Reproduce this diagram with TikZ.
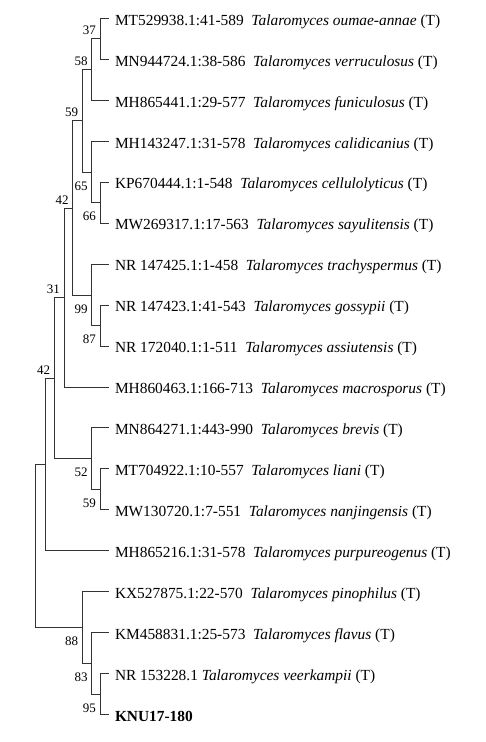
\documentclass[tikz,border=0pt]{standalone}
\usepackage{fontspec}
\setmainfont{Liberation Serif}
\usepackage{tikz}

\tikzset{
  branch/.style={draw=black!80, line width=0.8pt},
  taxon/.style={anchor=west, inner xsep=5.5pt, inner ysep=0pt, text height=13.6pt, text depth=0pt,
                font=\fontsize{15.4}{18}\selectfont},
  bootup/.style={anchor=south east, inner xsep=4pt, inner ysep=3.5pt, font=\fontsize{13}{15}\selectfont},
  bootdown/.style={anchor=north east, inner xsep=4pt, inner ysep=0pt, yshift=-9.5pt,
                   font=\fontsize{13}{15}\selectfont}
}

\begin{document}
\begin{tikzpicture}[x=1pt, y=-1pt]
\useasboundingbox (0,0) rectangle (485,742);

% Taxa
\node[taxon] (t1) at (109.3,18.3) {MT529938.1:41-589\ \ \textit{Talaromyces oumae-annae} (T)};
\node[taxon] (t2) at (109.3,59.3) {MN944724.1:38-586\ \ \textit{Talaromyces verruculosus} (T)};
\node[taxon] (t3) at (109.3,100.2) {MH865441.1:29-577\ \ \textit{Talaromyces funiculosus} (T)};
\node[taxon] (t4) at (109.3,141.2) {MH143247.1:31-578\ \ \textit{Talaromyces calidicanius} (T)};
\node[taxon] (t5) at (109.3,182.1) {KP670444.1:1-548\ \ \textit{Talaromyces cellulolyticus} (T)};
\node[taxon] (t6) at (109.3,223.1) {MW269317.1:17-563\ \ \textit{Talaromyces sayulitensis} (T)};
\node[taxon] (t7) at (109.3,264.0) {NR 147425.1:1-458\ \ \textit{Talaromyces trachyspermus} (T)};
\node[taxon] (t8) at (109.3,305.0) {NR 147423.1:41-543\ \ \textit{Talaromyces gossypii} (T)};
\node[taxon] (t9) at (109.3,345.9) {NR 172040.1:1-511\ \ \textit{Talaromyces assiutensis} (T)};
\node[taxon] (t10) at (109.3,386.9) {MH860463.1:166-713\ \ \textit{Talaromyces macrosporus} (T)};
\node[taxon] (t11) at (109.3,427.8) {MN864271.1:443-990\ \ \textit{Talaromyces brevis} (T)};
\node[taxon] (t12) at (109.3,468.8) {MT704922.1:10-557\ \ \textit{Talaromyces liani} (T)};
\node[taxon] (t13) at (109.3,509.7) {MW130720.1:7-551\ \ \textit{Talaromyces nanjingensis} (T)};
\node[taxon] (t14) at (109.3,550.7) {MH865216.1:31-578\ \ \textit{Talaromyces purpureogenus} (T)};
\node[taxon] (t15) at (109.3,591.6) {KX527875.1:22-570\ \ \textit{Talaromyces pinophilus} (T)};
\node[taxon] (t16) at (109.3,632.6) {KM458831.1:25-573\ \ \textit{Talaromyces flavus} (T)};
\node[taxon] (t17) at (109.3,673.5) {NR 153228.1\ \textit{Talaromyces veerkampii} (T)};
\node[taxon] (t18) at (109.3,714.5) {\textbf{KNU17-180}};

% Internal nodes
\coordinate (n37) at (100,38.8);
\coordinate (n58) at (91.7,69.5);
\coordinate (n66) at (100,202.6);
\coordinate (n65) at (91.7,171.9);
\coordinate (n59) at (82.3,120.7);
\coordinate (n87) at (100,325.5);
\coordinate (n99) at (91.7,295.2);
\coordinate (n42a) at (72.7,208);
\coordinate (n31) at (64,297.5);
\coordinate (n59b) at (100,489.3);
\coordinate (n52) at (91.7,458.5);
\coordinate (n42b) at (54.3,378);
\coordinate (n14) at (45,464.3);
\coordinate (n95) at (100,694);
\coordinate (n83) at (91.7,663.3);
\coordinate (n88) at (82.3,627.4);
\coordinate (root) at (35.7,545.9);

% Branches
\draw[branch] (n37) |- (t1.west);
\draw[branch] (n37) |- (t2.west);
\draw[branch] (n58) |- (n37);
\draw[branch] (n58) |- (t3.west);
\draw[branch] (n66) |- (t5.west);
\draw[branch] (n66) |- (t6.west);
\draw[branch] (n65) |- (t4.west);
\draw[branch] (n65) |- (n66);
\draw[branch] (n59) |- (n58);
\draw[branch] (n59) |- (n65);
\draw[branch] (n87) |- (t8.west);
\draw[branch] (n87) |- (t9.west);
\draw[branch] (n99) |- (t7.west);
\draw[branch] (n99) |- (n87);
\draw[branch] (n42a) |- (n59);
\draw[branch] (n42a) |- (n99);
\draw[branch] (n31) |- (n42a);
\draw[branch] (n31) |- (t10.west);
\draw[branch] (n59b) |- (t12.west);
\draw[branch] (n59b) |- (t13.west);
\draw[branch] (n52) |- (t11.west);
\draw[branch] (n52) |- (n59b);
\draw[branch] (n42b) |- (n31);
\draw[branch] (n42b) |- (n52);
\draw[branch] (n14) |- (n42b);
\draw[branch] (n14) |- (t14.west);
\draw[branch] (n95) |- (t17.west);
\draw[branch] (n95) |- (t18.west);
\draw[branch] (n83) |- (t16.west);
\draw[branch] (n83) |- (n95);
\draw[branch] (n88) |- (t15.west);
\draw[branch] (n88) |- (n83);
\draw[branch] (root) |- (n14);
\draw[branch] (root) |- (n88);

% Bootstrap values
\node[bootup] (b37) at (n37) {37};
\node[bootup] (b58) at (n58) {58};
\node[bootup] (b59) at (n59) {59};
\node[bootdown] (b65) at (n65) {65};
\node[bootdown] (b66) at (n66) {66};
\node[bootup] (b42a) at (n42a) {42};
\node[bootup] (b31) at (n31) {31};
\node[bootdown] (b99) at (n99) {99};
\node[bootdown] (b87) at (n87) {87};
\node[bootup] (b42b) at (n42b) {42};
\node[bootdown] (b52) at (n52) {52};
\node[bootdown] (b59b) at (n59b) {59};
\node[bootdown] (b88) at (n88) {88};
\node[bootdown] (b83) at (n83) {83};
\node[bootdown] (b95) at (n95) {95};

\end{tikzpicture}
\end{document}
